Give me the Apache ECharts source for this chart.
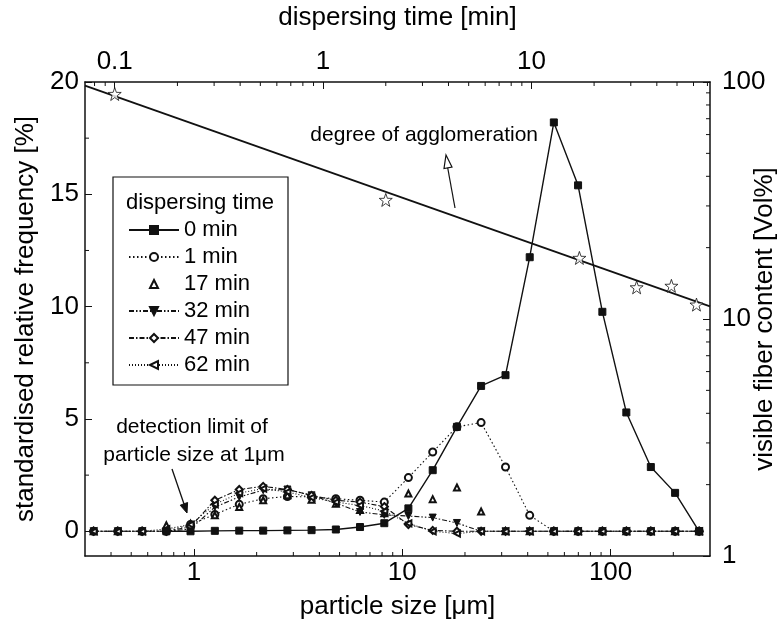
<!DOCTYPE html>
<html>
<head>
<meta charset="utf-8">
<script src="https://cdn.jsdelivr.net/npm/echarts@6/dist/echarts.min.js"></script>
<style>html,body{margin:0;padding:0;background:#fff}#c{width:784px;height:624px}</style>
</head>
<body>
<div id="c"></div>
<script>
// ---- data ----
const sizes = [0.33, 0.431, 0.564, 0.737, 0.963, 1.26, 1.65, 2.15, 2.81, 3.67, 4.80, 6.27, 8.20, 10.7, 14.0, 18.3, 23.9, 31.3, 40.9, 53.4, 69.8, 91.3, 119, 156, 204, 266];
const min0  = [null, null, null, 0, 0, 0.02, 0.03, 0.03, 0.04, 0.05, 0.08, 0.19, 0.36, 1.02, 2.72, 4.65, 6.47, 6.95, 12.2, 18.2, 15.4, 9.77, 5.29, 2.86, 1.71, 0];
const min1  = [0, 0, 0, 0, 0.3, 0.75, 1.2, 1.45, 1.55, 1.53, 1.45, 1.38, 1.3, 2.39, 3.53, 4.65, 4.84, 2.86, 0.71, 0, 0, 0, 0, 0, 0, 0];
const min17 = [0, 0, 0, 0.27, 0.34, 0.71, 1.08, 1.38, 1.6, 1.4, 1.23, 0.95, 0.8, 1.68, 1.43, 1.95, 0.88, 0, 0, 0, 0, 0, 0, 0, 0, 0];
const min32 = [0, 0, 0, 0, 0.1, 1.08, 1.53, 1.83, 1.86, 1.6, 1.25, 0.86, 0.73, 0.68, 0.61, 0.37, 0, 0, 0, 0, 0, 0, 0, 0, 0, 0];
const min47 = [0, 0, 0, 0, 0.2, 1.38, 1.86, 2.0, 1.86, 1.6, 1.38, 1.3, 1.1, 0.3, 0.04, 0, 0, 0, 0, 0, 0, 0, 0, 0, 0, 0];
const min62 = [0, 0, 0, 0.1, 0.3, 1.2, 1.7, 1.9, 1.75, 1.5, 1.3, 1.15, 0.9, 0.35, 0, -0.1, 0, 0, 0, 0, 0, 0, 0, 0, 0, 0];

const agTime    = [0.1, 2, 17, 32, 47, 62];
const agContent = [89, 31.8, 18.1, 13.6, 13.8, 11.5];
const fitTime    = [0.072, 72];
const fitContent = [96.6, 11.3];

const legendNames = ['0 min', '1 min', '17 min', '32 min', '47 min', '62 min'];

// axis ranges and minor tick values
const xMin = 0.3, xMax = 300;
const tMin = 0.072, tMax = 72;
const yMin = -1.1, yMax = 20;
const vMin = 1, vMax = 100;
const bottomMinor = [0.4,0.5,0.6,0.7,0.8,0.9,2,3,4,5,6,7,8,9,20,30,40,50,60,70,80,90,200];
const topMinor = [0.08,0.09,0.2,0.3,0.4,0.5,0.6,0.7,0.8,0.9,2,3,4,5,6,7,8,9,20,30,40,50,60,70];
const rightMinor = [2,3,4,5,6,7,8,9,20,30,40,50,60,70,80,90];
const leftMinor = [2.5, 7.5, 12.5, 17.5];

// ---- chart ----
const F = '"Liberation Sans", Arial, Helvetica, sans-serif';
const K = '#111';
const pair = (xs, ys) => xs.map((x, i) => [x, ys[i]]);
const logLabel = v => {
  const l = Math.log10(v);
  if (Math.abs(l - Math.round(l)) < 1e-6) {
    const p = Math.pow(10, Math.round(l));
    return String(+p.toPrecision(3));
  }
  return '';
};
const STAR = 'path://M0,-10L2.35,-3.24L9.51,-3.09L3.8,1.24L5.88,8.09L0,4L-5.88,8.09L-3.8,1.24L-9.51,-3.09L-2.35,-3.24Z';

function tickSeries(values, kind) {
  let xi = 0, yi = 0, data, len = 4;
  if (kind === 'bottom') data = values.map(v => [v, yMin]);
  if (kind === 'top') { xi = 1; data = values.map(v => [v, yMax]); }
  if (kind === 'right') { yi = 1; data = values.map(v => [xMax, v]); }
  if (kind === 'left') data = values.map(v => [xMin, v]);
  return {
    type: 'custom', xAxisIndex: xi, yAxisIndex: yi, silent: true, clip: false, z: 6,
    data: data, legendHoverLink: false,
    renderItem: function (params, api) {
      const p = api.coord([api.value(0), api.value(1)]);
      let s;
      if (kind === 'bottom') s = {x1: p[0], y1: p[1], x2: p[0], y2: p[1] - len};
      if (kind === 'top') s = {x1: p[0], y1: p[1], x2: p[0], y2: p[1] + len};
      if (kind === 'right') s = {x1: p[0], y1: p[1], x2: p[0] - len, y2: p[1]};
      if (kind === 'left') s = {x1: p[0], y1: p[1], x2: p[0] + len, y2: p[1]};
      return {type: 'line', shape: s, style: {stroke: K, lineWidth: 1}};
    }
  };
}

function distSeries(name, ys, symbol, opts) {
  return Object.assign({
    name: name, type: 'line', xAxisIndex: 0, yAxisIndex: 0,
    data: pair(sizes, ys), symbol: symbol, symbolSize: 7,
    itemStyle: {color: K, borderColor: K, borderWidth: 1},
    lineStyle: {color: K, width: 1.1},
    z: 2
  }, opts || {});
}

const axisCommon = {
  axisLine: {show: true, onZero: false, lineStyle: {color: K, width: 1.5}},
  axisTick: {show: true, inside: true, length: 7, lineStyle: {color: K, width: 1}},
  splitLine: {show: false},
  minorTick: {show: false},
  nameMoveOverlap: false,
  nameTextStyle: {fontFamily: F, fontSize: 26, color: '#000'}
};

const option = {
  animation: false,
  backgroundColor: '#fff',
  textStyle: {fontFamily: F},
  grid: {left: 85, right: 74, top: 82, bottom: 68, outerBoundsMode: 'none', containLabel: false},
  legend: {
    data: legendNames, orient: 'vertical', left: 128, top: 218,
    itemWidth: 50, itemHeight: 10, itemGap: 3, padding: 0, selectedMode: false,
    textStyle: {fontFamily: F, fontSize: 22, lineHeight: 24, color: '#000'}
  },
  xAxis: [
    Object.assign({}, axisCommon, {
      type: 'log', logBase: 10, min: xMin, max: xMax, position: 'bottom',
      name: 'particle size [μm]', nameLocation: 'middle', nameGap: 38,
      axisLabel: {formatter: logLabel, fontFamily: F, fontSize: 26, color: '#000', margin: 4,
        showMinLabel: false, showMaxLabel: false}
    }),
    Object.assign({}, axisCommon, {
      type: 'log', logBase: 10, min: tMin, max: tMax, position: 'top',
      name: 'dispersing time [min]', nameLocation: 'middle', nameGap: 51,
      axisLabel: {formatter: logLabel, fontFamily: F, fontSize: 26, color: '#000', margin: 7,
        showMinLabel: false, showMaxLabel: false}
    })
  ],
  yAxis: [
    Object.assign({}, axisCommon, {
      type: 'value', min: yMin, max: yMax, splitNumber: 5, position: 'left',
      name: 'standardised relative frequency [%]', nameLocation: 'middle', nameGap: 46, nameRotate: 90,
      axisLabel: {fontFamily: F, fontSize: 26, color: '#000', margin: 6, showMinLabel: false}
    }),
    Object.assign({}, axisCommon, {
      type: 'log', logBase: 10, min: vMin, max: vMax, position: 'right',
      name: 'visible fiber content [Vol%]', nameLocation: 'middle', nameGap: 42, nameRotate: 90,
      axisLabel: {formatter: logLabel, fontFamily: F, fontSize: 26, color: '#000', margin: 12}
    })
  ],
  series: [
    distSeries('1 min', min1, 'emptyCircle', {lineStyle: {color: K, width: 1.1, type: [1.5, 2.5]}}),
    distSeries('17 min', min17, 'emptyTriangle', {symbolSize: 6, lineStyle: {color: K, width: 1, opacity: 0}}),
    distSeries('32 min', min32, 'triangle', {symbolRotate: 180, lineStyle: {color: K, width: 1.1, type: [5, 2, 1.5, 2, 1.5, 2]}}),
    distSeries('47 min', min47, 'emptyDiamond', {lineStyle: {color: K, width: 1.1, type: [5, 2, 1.5, 2]}}),
    distSeries('62 min', min62, 'emptyTriangle', {symbolRotate: 90, symbolSize: 6, lineStyle: {color: K, width: 1.1, type: [1, 2]}}),
    distSeries('0 min', min0, 'rect', {z: 3, lineStyle: {color: K, width: 1.4}}),
    {
      name: 'fit', type: 'line', xAxisIndex: 1, yAxisIndex: 1,
      data: pair(fitTime, fitContent), showSymbol: false, symbol: 'none',
      lineStyle: {color: K, width: 1.8}, z: 3
    },
    {
      name: 'agglomeration', type: 'scatter', xAxisIndex: 1, yAxisIndex: 1,
      data: pair(agTime, agContent), symbol: STAR, symbolSize: 13,
      itemStyle: {color: '#fff', borderColor: K, borderWidth: 1}, z: 4
    },
    tickSeries(bottomMinor, 'bottom'),
    tickSeries(topMinor, 'top'),
    tickSeries(rightMinor, 'right'),
    tickSeries(leftMinor, 'left')
  ],
  graphic: [
    {type: 'rect', shape: {x: 113, y: 177, width: 175, height: 208},
      style: {fill: 'none', stroke: K, lineWidth: 1.2}, z: 1},
    {type: 'text', style: {text: 'dispersing time', x: 126, y: 203, font: '22px ' + F,
      fill: '#000', align: 'left', verticalAlign: 'middle'}},
    {type: 'text', style: {text: 'degree of agglomeration', x: 538, y: 135, font: '21px ' + F,
      fill: '#000', align: 'right', verticalAlign: 'middle'}},
    {type: 'line', shape: {x1: 455, y1: 208, x2: 447, y2: 164}, style: {stroke: K, lineWidth: 1.2}},
    {type: 'polygon', shape: {points: [[446, 155], [452, 167], [444, 168.5]]},
      style: {fill: '#fff', stroke: K, lineWidth: 1.2}},
    {type: 'text', style: {text: 'detection limit of', x: 192, y: 427, font: '21px ' + F,
      fill: '#000', align: 'center', verticalAlign: 'middle'}},
    {type: 'text', style: {text: 'particle size at 1μm', x: 194, y: 455, font: '21px ' + F,
      fill: '#000', align: 'center', verticalAlign: 'middle'}},
    {type: 'line', shape: {x1: 172, y1: 469, x2: 184, y2: 504}, style: {stroke: K, lineWidth: 1.3}},
    {type: 'polygon', shape: {points: [[187, 513], [187.6, 502.5], [180.2, 505.2]]},
      style: {fill: K, stroke: K, lineWidth: 1}}
  ]
};

const chart = echarts.init(document.getElementById('c'), null, {renderer: 'canvas'});
chart.setOption(option);
</script>
</body>
</html>
